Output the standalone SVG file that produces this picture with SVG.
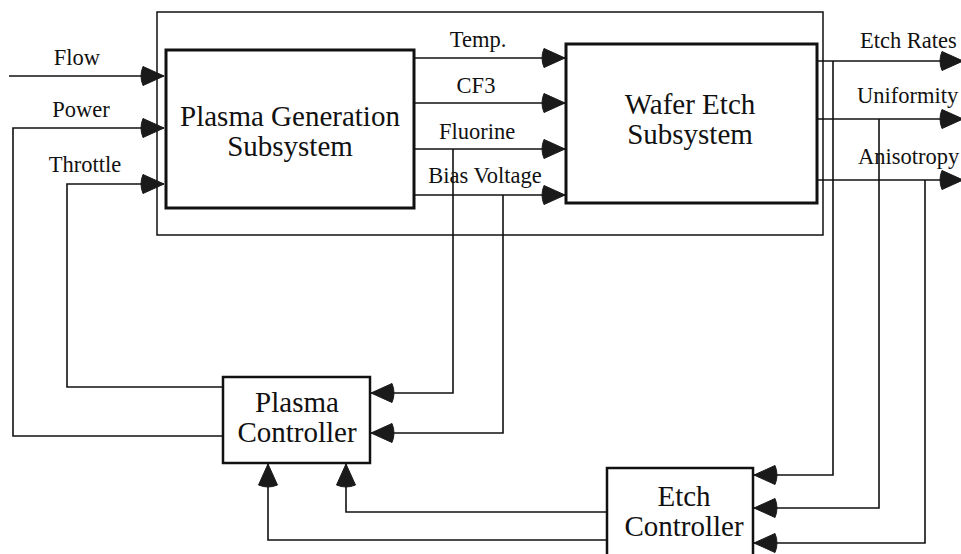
<svg xmlns="http://www.w3.org/2000/svg" width="961" height="554" viewBox="0 0 961 554">
  <defs>
    <style>
      .box { fill: none; stroke: #111; }
      .thick { stroke-width: 3; }
      .mid { stroke-width: 2.5; }
      .thin { stroke-width: 1.5; }
      .conn { fill: none; stroke: #111; stroke-width: 1.6; marker-end: url(#arrow); }
      .title { font-family: "Liberation Serif", "Times New Roman", serif; font-size: 29px; fill: #111; text-anchor: middle; }
      .label { font-family: "Liberation Serif", "Times New Roman", serif; font-size: 22.5px; fill: #111; }
      .mid-a { text-anchor: middle; }
    </style>
    <marker id="arrow" markerUnits="userSpaceOnUse" viewBox="-26 -11 27 22" markerWidth="27" markerHeight="22" refX="0" refY="0" orient="auto">
      <path d="M0,0 L-21,-9.5 Q-25,0 -21,9.5 Z" fill="#1a1a1a" stroke="#1a1a1a" stroke-width="1" stroke-linejoin="round"/>
    </marker>
  </defs>
  <rect width="961" height="554" fill="#fff"/>

  <g id="system-boundary">
    <rect class="box thin" x="157" y="12" width="666" height="223"/>
  </g>

  <g id="connectors">
    <path class="conn" d="M9,76 H164"/>
    <path class="conn" d="M223,436 H13 V128 H164"/>
    <path class="conn" d="M223,387 H67 V184 H164"/>
    <path class="conn" d="M414,58 H565"/>
    <path class="conn" d="M414,103 H565"/>
    <path class="conn" d="M414,149 H565"/>
    <path class="conn" d="M414,195 H565"/>
    <path class="conn" d="M453,149 V393 H371"/>
    <path class="conn" d="M503,195 V433 H371"/>
    <path class="conn" d="M817,61 H963"/>
    <path class="conn" d="M817,119 H963"/>
    <path class="conn" d="M817,180 H963"/>
    <path class="conn" d="M833,61 V475 H754"/>
    <path class="conn" d="M879,119 V508 H754"/>
    <path class="conn" d="M925,180 V543 H754"/>
    <path class="conn" d="M607,512 H346 V464"/>
    <path class="conn" d="M607,540 H268 V464"/>
  </g>

  <g id="connector-labels">
    <text class="label mid-a" x="77" y="65">Flow</text>
    <text class="label mid-a" x="81" y="117">Power</text>
    <text class="label mid-a" x="85" y="172">Throttle</text>
    <text class="label mid-a" x="478" y="47">Temp.</text>
    <text class="label mid-a" x="476" y="93">CF3</text>
    <text class="label mid-a" x="477" y="139">Fluorine</text>
    <text class="label mid-a" x="485" y="183">Bias Voltage</text>
    <text class="label" x="860" y="48">Etch Rates</text>
    <text class="label" x="857" y="103">Uniformity</text>
    <text class="label" x="858" y="164">Anisotropy</text>
  </g>

  <g id="plasma-generation">
    <rect class="box thick" x="166" y="50" width="248" height="158"/>
    <text class="title" x="290" y="126">Plasma Generation</text>
    <text class="title" x="290" y="156">Subsystem</text>
  </g>

  <g id="wafer-etch">
    <rect class="box thick" x="566" y="44" width="251" height="159"/>
    <text class="title" x="690" y="114">Wafer Etch</text>
    <text class="title" x="690" y="144">Subsystem</text>
  </g>

  <g id="plasma-controller">
    <rect class="box mid" x="223" y="377" width="147" height="86"/>
    <text class="title" x="297" y="412">Plasma</text>
    <text class="title" x="297" y="442">Controller</text>
  </g>

  <g id="etch-controller">
    <rect class="box mid" x="607" y="468" width="146" height="95"/>
    <text class="title" x="684" y="506">Etch</text>
    <text class="title" x="684" y="536">Controller</text>
  </g>
</svg>
